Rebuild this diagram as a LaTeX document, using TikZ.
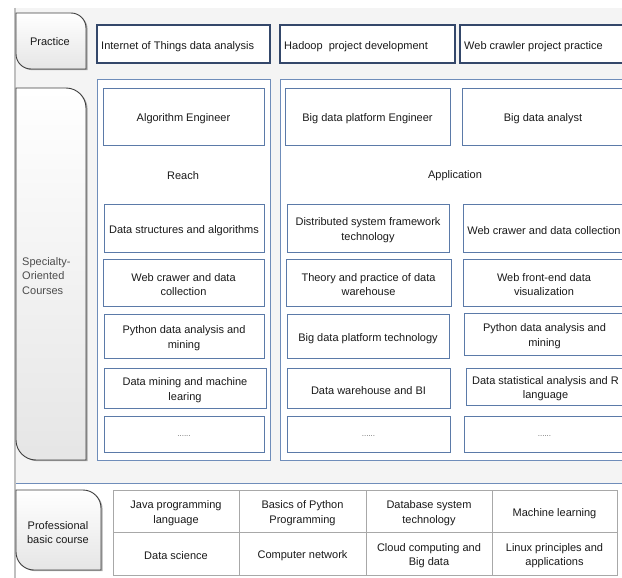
\documentclass[tikz,border=0pt]{standalone}
\usepackage{fontspec}
\setmainfont{Liberation Sans}
\usetikzlibrary{shadows}
\definecolor{bgcol}{HTML}{F4F4F4}
\definecolor{praccol}{HTML}{34476A}
\definecolor{panelcol}{HTML}{6F8DBA}
\definecolor{boxcol}{HTML}{5B7AA8}
\definecolor{tabcol}{HTML}{3F3F3F}
\definecolor{tablecol}{HTML}{A8A8A8}
\definecolor{txtcol}{HTML}{1A1A1A}
\tikzset{
  boxst/.style={draw=boxcol, line width=0.9pt, fill=white, inner sep=0pt, outer sep=0pt},
  pracst/.style={draw=praccol, line width=1.3pt},
  panelst/.style={draw=panelcol, line width=0.9pt, fill=white},
  cellst/.style={draw=tablecol, line width=0.9pt, fill=white},
  tabst/.style={draw=tabcol, line width=0.9pt, top color=white, bottom color=black!10, drop shadow={shadow xshift=1.6pt, shadow yshift=-1.2pt, opacity=0.45, fill=black!70}},
  lbl/.style={font=\fontsize{11}{14.5}\selectfont, text=txtcol, inner sep=0pt, align=center},
  dots/.style={font=\fontsize{8}{10}\selectfont, text=black!60},
}
% [text style] name x1 y1 x2 y2 text ; optional box style via \boxopt
\newcommand\mybox[7][]{%
  \node[boxst,#1,minimum width={(#5-#3)*1pt},minimum height={(#6-#4)*1pt}] (#2) at ({(#3+#5)/2},{(#4+#6)/2}) {};
  \node[lbl] (#2t) at ([yshift=-2.3pt]#2.center) {#7};}
\newcommand\dbox[6][]{%
  \node[boxst,#1,minimum width={(#5-#3)*1pt},minimum height={(#6-#4)*1pt}] (#2) at ({(#3+#5)/2},{(#4+#6)/2}) {};
  \node[lbl,dots] (#2t) at ([yshift=-2.3pt]#2.center) {......};}
\newcommand\pbox[6]{%
  \node[boxst,pracst,minimum width={(#5-#3)*1pt},minimum height={(#6-#4)*1pt}] (#1) at ({(#3+#5)/2},{(#4+#6)/2}) {};
  \node[lbl,anchor=west] (#1t) at ([xshift=4pt,yshift=-3pt]#1.west) {#2};}
\newcommand\tabshape[5]{% x1 y1 x2 y2 r
  \path[tabst] (#1,#2) -- ({#3-#5},#2) arc[start angle=-90,end angle=0,radius=#5] -- (#3,#4) -- ({#1+#5},#4) arc[start angle=90,end angle=180,radius=#5] -- cycle;}
\begin{document}
\begin{tikzpicture}[x=1pt,y=-1pt]
\useasboundingbox (0,0) rectangle (622,578);
\fill[white] (0,0) rectangle (622,578);
\fill[bgcol] (16,8) rectangle (622,483);
\draw[black!25, line width=2pt] (15,8) -- (15,578);
\draw[panelcol, line width=1pt] (16,483) -- (622,483);

% left tabs
\tabshape{16}{13}{86}{69}{15}
\node[lbl] (tprac) at (50,42) {Practice};
\tabshape{16}{88}{86}{460}{20}
\node[lbl, anchor=west, align=left, text=black!70] (tspec) at (22,276) {Specialty-\\Oriented\\Courses};
\tabshape{16}{490}{101}{570}{18}
\node[lbl] (tprof) at (58,532.5) {Professional\\basic course};

% practice boxes
\pbox{p1}{Internet of Things data analysis}{97}{25}{270}{63}
\pbox{p2}{Hadoop\ \ project development}{280}{25}{455}{63}
\pbox{p3}{Web crawler project practice}{460}{25}{640}{63}

% panels
\draw[panelst] (97,79) rectangle (270,460);
\draw[panelst] (280,79) rectangle (640,460);
\node[lbl] (reach) at (183,176) {Reach};
\node[lbl] (appl) at (455,176) {Application};

% job boxes
\mybox{j1}{103}{88}{264}{145}{Algorithm Engineer}
\mybox{j2}{285}{88}{450}{145}{Big data platform Engineer}
\mybox{j3}{462}{88}{624}{145}{Big data analyst}

% left column
\mybox{a1}{104}{204}{264}{252}{Data structures and algorithms}
\mybox{a2}{103}{259}{264}{306}{Web crawer and data\\collection}
\mybox{a3}{104}{314}{264}{358}{Python data analysis and\\mining}
\mybox{a4}{104}{368}{266}{408}{Data mining and machine\\learing}
\dbox{a5}{104}{416}{264}{452}

% middle column
\mybox{b1}{287}{204}{449}{252}{Distributed system framework\\technology}
\mybox{b2}{286}{259}{451}{306}{Theory and practice of data\\warehouse}
\mybox{b3}{287}{314}{449}{358}{Big data platform technology}
\mybox{b4}{287}{368}{450}{408}{Data warehouse and BI}
\dbox{b5}{287}{416}{450}{452}

% right column
\mybox{c1}{463}{204}{625}{252}{Web crawer and data collection}
\mybox{c2}{463}{259}{625}{306}{Web front-end data\\visualization}
\mybox{c3}{464}{313}{625}{355}{Python data analysis and\\mining}
\mybox{c4}{466}{368}{625}{405}{Data statistical analysis and R\\language}
\dbox{c5}{464}{416}{625}{452}

% basic course table
\mybox[cellst]{d1}{113}{490}{239}{532}{Java programming\\language}
\mybox[cellst]{d2}{239}{490}{366}{532}{Basics of Python\\Programming}
\mybox[cellst]{d3}{366}{490}{492}{532}{Database system\\technology}
\mybox[cellst]{d4}{492}{490}{617}{532}{Machine learning}
\mybox[cellst]{e1}{113}{532}{239}{575}{Data science}
\mybox[cellst]{e2}{239}{532}{366}{575}{Computer network}
\mybox[cellst]{e3}{366}{532}{492}{575}{Cloud computing and\\Big data}
\mybox[cellst]{e4}{492}{532}{617}{575}{Linux principles and\\applications}
\end{tikzpicture}
\end{document}
